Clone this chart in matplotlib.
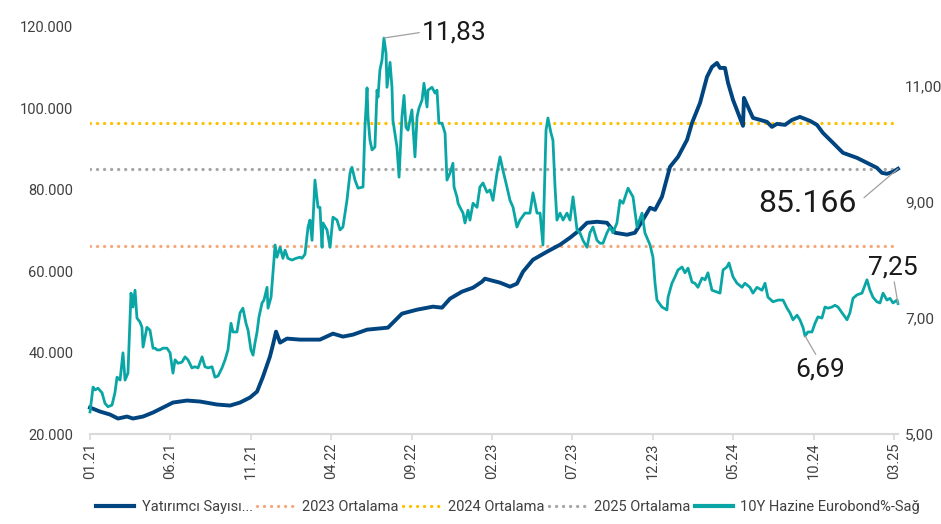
import matplotlib.pyplot as plt
from matplotlib.lines import Line2D
from matplotlib.ticker import FuncFormatter

plt.rcParams['font.family'] = ['Roboto', 'DejaVu Sans']

# x axis: months since Jan 2021
tick_pos = [0, 5, 10, 15, 20, 25, 30, 35, 40, 45, 50]
tick_labels = ['01.21', '06.21', '11.21', '04.22', '09.22', '02.23',
               '07.23', '12.23', '05.24', '10.24', '03.25']

# Yatırımcı Sayısı (thousands)
inv_t = [0.00, 0.62, 1.24, 1.74, 2.30, 2.67, 3.30, 3.92, 4.54, 5.16, 6.03, 6.84,
         7.90, 8.71, 9.33, 9.95, 10.39, 10.76, 11.19, 11.38, 11.57, 11.82, 12.25,
         13.06, 14.30, 15.11, 15.73, 16.36, 17.23, 18.53, 19.40, 20.34, 21.33,
         21.89, 22.39, 23.13, 23.82, 24.38, 24.56, 25.50, 26.12, 26.55, 26.93,
         27.55, 28.42, 29.23, 29.85, 30.47, 30.91, 31.53, 32.15, 32.65, 33.40,
         33.89, 34.39, 34.83, 35.14, 35.57, 36.07, 36.57, 37.13, 37.44, 37.94,
         38.37, 38.68, 38.99, 39.18, 39.49, 39.68, 39.99, 40.42, 40.61, 40.67,
         40.92, 41.23, 41.67, 42.10, 42.41, 42.72, 43.22, 43.66, 44.15, 44.78,
         45.21, 45.58, 46.21, 46.83, 47.70, 48.32, 48.94, 49.25, 49.56, 49.94, 50.25]
inv_v = [26.50, 25.52, 24.79, 23.80, 24.29, 23.80, 24.29, 25.28, 26.50, 27.73, 28.22, 27.98,
         27.24, 26.99, 27.73, 28.96, 30.43, 34.11, 39.02, 41.96, 45.15, 42.45, 43.44,
         43.19, 43.19, 44.66, 43.93, 44.42, 45.64, 46.13, 49.57, 50.55, 51.29,
         51.04, 53.25, 54.97, 55.95, 57.42, 58.16, 57.18, 56.20, 56.93, 59.88,
         62.82, 64.79, 66.50, 68.22, 70.18, 71.90, 72.15, 71.90, 69.45, 68.96,
         69.45, 72.64, 75.58, 75.09, 78.28, 85.64, 88.10, 92.27, 96.44, 101.35,
         107.73, 110.18, 111.17, 109.94, 109.94, 106.26, 102.09, 97.67, 95.71, 102.58,
         100.37, 97.67, 97.18, 96.69, 95.46, 96.20, 95.95, 97.18, 97.91, 96.93,
         95.95, 93.99, 91.53, 89.08, 87.85, 86.63, 85.40, 84.17, 83.93, 84.42, 85.17]

# 10Y Hazine Eurobond (%)
eb_t = [0.00, 0.19, 0.31, 0.50, 0.75, 0.93, 1.12, 1.37, 1.55, 1.68, 1.87, 2.05, 2.18, 2.36,
        2.55, 2.67, 2.80, 2.92, 3.11, 3.23, 3.30, 3.54, 3.73, 3.92, 4.05, 4.17, 4.35, 4.54,
        4.79, 4.98, 5.16, 5.29, 5.47, 5.72, 5.91, 6.09, 6.34, 6.53, 6.72, 6.97, 7.15, 7.34,
        7.59, 7.77, 7.96, 8.21, 8.40, 8.58, 8.77, 8.89, 9.14, 9.33, 9.51, 9.70, 9.83, 10.01,
        10.14, 10.26, 10.39, 10.51, 10.70, 10.82, 11.01, 11.07, 11.26, 11.38, 11.44, 11.51,
        11.63, 11.82, 12.00, 12.13, 12.31, 12.56, 12.81, 13.06, 13.18, 13.37, 13.56, 13.68,
        13.81, 13.99, 14.18, 14.30, 14.43, 14.49, 14.74, 14.93, 15.11, 15.36, 15.55, 15.73,
        15.98, 16.17, 16.29, 16.48, 16.67, 16.98, 17.10, 17.23, 17.29, 17.41, 17.54, 17.72,
        17.85, 17.91, 18.03, 18.16, 18.28, 18.41, 18.47, 18.66, 18.78, 18.84, 19.09, 19.22,
        19.40, 19.53, 19.65, 19.78, 20.02, 20.21, 20.34, 20.46, 20.65, 20.77, 20.96, 21.02,
        21.27, 21.46, 21.58, 21.70, 21.89, 22.08, 22.20, 22.39, 22.57, 22.64, 22.82, 22.89,
        23.01, 23.20, 23.32, 23.51, 23.63, 23.82, 24.07, 24.25, 24.44, 24.69, 24.88, 25.06,
        25.31, 25.50, 25.68, 25.93, 26.12, 26.31, 26.55, 26.74, 27.05, 27.36, 27.55, 27.80,
        27.99, 28.17, 28.36, 28.48, 28.67, 28.79, 28.92, 29.04, 29.23, 29.42, 29.66, 29.85,
        30.04, 30.29, 30.47, 30.66, 30.91, 31.09, 31.28, 31.53, 31.72, 31.90, 32.15, 32.34,
        32.52, 32.77, 32.96, 33.15, 33.46, 33.77, 34.02, 34.33, 34.51, 34.83, 35.01, 35.14,
        35.26, 35.57, 35.88, 35.95, 36.19, 36.38, 36.57, 36.82, 37.00, 37.19, 37.44, 37.62,
        37.81, 38.06, 38.25, 38.43, 38.68, 38.99, 39.18, 39.37, 39.61, 39.74, 39.99, 40.24,
        40.55, 40.73, 41.04, 41.23, 41.48, 41.79, 41.98, 42.16, 42.48, 42.79, 43.10, 43.35,
        43.53, 43.72, 43.97, 44.15, 44.34, 44.47, 44.65, 44.90, 45.09, 45.27, 45.52, 45.71,
        45.90, 46.14, 46.33, 46.52, 46.77, 47.08, 47.26, 47.45, 47.70, 48.01, 48.20, 48.32,
        48.51, 48.69, 48.94, 49.13, 49.32, 49.56, 49.75, 49.94, 50.19, 50.25]
eb_v = [5.38, 5.81, 5.76, 5.79, 5.71, 5.53, 5.47, 5.50, 5.71, 5.98, 5.93, 6.40, 5.93, 6.05,
        7.43, 7.19, 7.48, 7.00, 6.93, 6.84, 6.50, 6.84, 6.79, 6.48, 6.48, 6.45, 6.45, 6.48,
        6.48, 6.40, 6.05, 6.28, 6.22, 6.24, 6.33, 6.28, 6.14, 6.16, 6.14, 6.33, 6.16, 6.14,
        6.16, 5.98, 6.00, 6.14, 6.28, 6.45, 6.91, 6.76, 6.76, 7.09, 7.17, 6.91, 6.79, 6.45,
        6.36, 6.57, 6.76, 7.02, 7.26, 7.31, 7.53, 7.17, 7.36, 7.78, 8.00, 8.26,
        8.05, 8.22, 8.03, 8.17, 8.03, 8.00, 8.03, 8.05, 8.03, 8.10, 8.57, 8.69,
        8.34, 9.38, 8.91, 8.91, 8.22, 8.64, 8.52, 8.22, 8.74, 8.69, 8.52, 8.57,
        9.03, 9.50, 9.60, 9.38, 9.24, 9.26, 10.29, 10.97, 10.47, 10.07, 9.90, 9.95,
        10.93, 10.81, 11.28, 11.45, 11.83, 11.57, 10.98, 11.41, 10.98, 10.41, 9.95, 9.43,
        10.47, 10.84, 10.29, 10.24, 10.59, 9.78, 10.47, 10.62, 10.76, 11.05, 10.64, 10.93,
        10.98, 10.88, 10.93, 10.36, 10.36, 10.19, 9.38, 9.50, 9.67, 9.26, 9.09, 8.98,
        8.91, 8.81, 8.64, 8.86, 8.69, 8.98, 8.91, 9.26, 9.33, 9.17, 9.21, 9.03,
        9.50, 9.78, 9.55, 9.26, 9.03, 8.91, 8.57, 8.69, 8.81, 8.81, 9.16, 8.81,
        8.81, 8.26, 10.24, 10.45, 10.19, 10.07, 9.26, 8.69, 8.81, 8.69, 8.81, 8.69,
        9.09, 8.52, 8.47, 8.34, 8.22, 8.47, 8.57, 8.34, 8.29, 8.29, 8.47, 8.57,
        8.47, 8.64, 9.03, 8.98, 9.24, 9.09, 8.57, 8.81, 8.47, 8.26, 8.05, 7.60,
        7.31, 7.19, 7.14, 7.36, 7.60, 7.71, 7.83, 7.88, 7.78, 7.86, 7.62, 7.60,
        7.53, 7.69, 7.66, 7.78, 7.48, 7.45, 7.43, 7.83, 7.88, 7.95, 7.71, 7.60,
        7.53, 7.60, 7.53, 7.43, 7.53, 7.48, 7.60, 7.36, 7.28, 7.31, 7.31, 7.17,
        7.09, 6.97, 7.05, 6.97, 6.84, 6.69, 6.76, 6.76, 6.91, 7.02, 7.00, 7.19,
        7.17, 7.19, 7.22, 7.19, 7.09, 6.97, 7.09, 7.34, 7.40, 7.43, 7.57, 7.66,
        7.48, 7.36, 7.28, 7.26, 7.43, 7.31, 7.34, 7.26, 7.31, 7.25]

# yearly averages (thousands)
avg_names = ['2023 Ortalama', '2024 Ortalama', '2025 Ortalama']
avg_vals = [66.3, 96.4, 85.2]
avg_colors = ['#F6A97B', '#FFC000', '#A6A6A6']

blue = '#00457F'
teal = '#0AA6A6'
txt = '#404040'
dots = (0, (0.01, 2.1))

fig = plt.figure(figsize=(9.41, 5.24), dpi=100)
ax = fig.add_axes([90 / 941, 1 - 434 / 524, 808 / 941, 407 / 524])
ax2 = ax.twinx()

for v, c in zip(avg_vals, avg_colors):
    ax.axhline(v, color=c, lw=2.4, linestyle=dots, dash_capstyle='round', zorder=1)
ax.plot(inv_t, inv_v, color=blue, lw=2.8, zorder=3, clip_on=False)
ax2.plot(eb_t, eb_v, color=teal, lw=2.0, zorder=3, clip_on=False)

ax.set_xlim(0, 50.25)
ax.set_ylim(20, 120)
ax2.set_ylim(5, 12.02)

ax.set_yticks([20, 40, 60, 80, 100, 120])
ax.yaxis.set_major_formatter(FuncFormatter(lambda v, p: f"{int(v * 1000):,}".replace(',', '.')))
ax2.set_yticks([5, 7, 9, 11])
ax2.yaxis.set_major_formatter(FuncFormatter(lambda v, p: f"{v:.2f}".replace('.', ',')))

ax.set_xticks(tick_pos)
ax.set_xticklabels(tick_labels, rotation=90)

for a in (ax, ax2):
    for s in ('top', 'left', 'right', 'bottom'):
        a.spines[s].set_visible(False)
ax.spines['bottom'].set_visible(True)
ax.spines['bottom'].set_color('#D9D9D9')
ax.spines['bottom'].set_linewidth(1.5)

ax.tick_params(axis='x', length=4, width=1.2, color='#D9D9D9', pad=2,
               labelsize=10.5, labelcolor=txt)
ax.tick_params(axis='y', length=0, pad=12, labelsize=10.5, labelcolor=txt)
ax2.tick_params(axis='y', length=0, pad=5, labelsize=11, labelcolor=txt)

ann = dict(arrowstyle='-', color='#A0A0A0', lw=0.9, shrinkA=0, shrinkB=0)
ax2.annotate('11,83', xy=(18.28, 11.83), xytext=(20.65, 11.93), fontsize=19,
             color='#1A1A1A', ha='left', va='center',
             arrowprops=dict(ann, relpos=(0, 0.5)))
ax2.annotate('6,69', xy=(44.47, 6.69), xytext=(43.84, 6.12), fontsize=19,
             color='#1A1A1A', ha='left', va='center',
             arrowprops=dict(ann, relpos=(0.45, 1)))
ax2.annotate('7,25', xy=(50.25, 7.25), xytext=(48.38, 7.88), fontsize=19,
             color='#1A1A1A', ha='left', va='center',
             arrowprops=dict(ann, relpos=(0.52, 0)))
ax.annotate('85.166', xy=(50.25, 85.17), xytext=(47.70, 76.6), fontsize=23,
            color='#1A1A1A', ha='right', va='center',
            arrowprops=dict(ann, relpos=(1, 0.5), shrinkA=4))

handles = [Line2D([], [], color=blue, lw=3)]
handles += [Line2D([], [], color=c, lw=2.4, linestyle=dots, dash_capstyle='round') for c in avg_colors]
handles += [Line2D([], [], color=teal, lw=3)]
labels = ['Yatırımcı Sayısı...'] + avg_names + ['10Y Hazine Eurobond%-Sağ']
fig.legend(handles, labels, loc='center', bbox_to_anchor=(0.54, 1 - 507 / 524), ncol=5,
           frameon=False, fontsize=10.5, handlelength=2.6, handletextpad=0.5,
           columnspacing=0.3, labelcolor=txt)

fig.savefig('out.png', dpi=100)
